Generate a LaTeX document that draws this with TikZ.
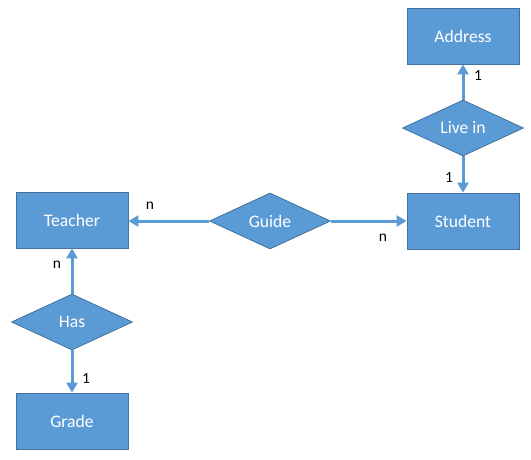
\documentclass[tikz,border=0pt]{standalone}
\usepackage{fontspec}
\setmainfont{Carlito}
\usetikzlibrary{shapes.geometric,arrows.meta}
\definecolor{boxfill}{HTML}{5B9BD5}
\definecolor{boxedge}{HTML}{41719C}
\begin{document}
\begin{tikzpicture}[x=1pt,y=-1pt,
  entity/.style={rectangle,draw=boxedge,line width=0.8pt,fill=boxfill,minimum width=112pt,minimum height=56pt,inner sep=0pt,text=white,font=\fontsize{17.6}{20}\selectfont},
  relation/.style={diamond,draw=boxedge,line width=0.8pt,fill=boxfill,minimum width=121pt,minimum height=56pt,aspect=2.15,inner sep=0pt,text=white,font=\fontsize{17.6}{20}\selectfont},
  link/.style={draw=boxfill,line width=3pt,-{Triangle[length=10pt,width=11pt]}},
  card/.style={font=\fontsize{15.5}{18}\selectfont,text=black,inner sep=0pt}]
\useasboundingbox (0,0) rectangle (531,459);
\node[entity] (teacher) at (72,220) {Teacher};
\node[entity] (student) at (463,221) {Student};
\node[entity] (address) at (463,36) {Address};
\node[entity] (grade) at (72,421) {Grade};
\node[relation] (guide) at (270,221) {Guide};
\node[relation] (livein) at (463,128) {Live in};
\node[relation] (has) at (72,322) {Has};
\draw[link] (guide.west) -- (guide.west -| teacher.east);
\draw[link] (guide.east) -- (student.west);
\draw[link] (has.north) -- (teacher.south);
\draw[link] (has.south) -- (grade.north);
\draw[link] (livein.north) -- (address.south);
\draw[link] (livein.south) -- (student.north);
\node[card] (c1) at (150,206) {n};
\node[card] (c2) at (57,265) {n};
\node[card] (c3) at (86,379) {1};
\node[card] (c4) at (478,76) {1};
\node[card] (c5) at (449,178) {1};
\node[card] (c6) at (383,238) {n};
\end{tikzpicture}
\end{document}
